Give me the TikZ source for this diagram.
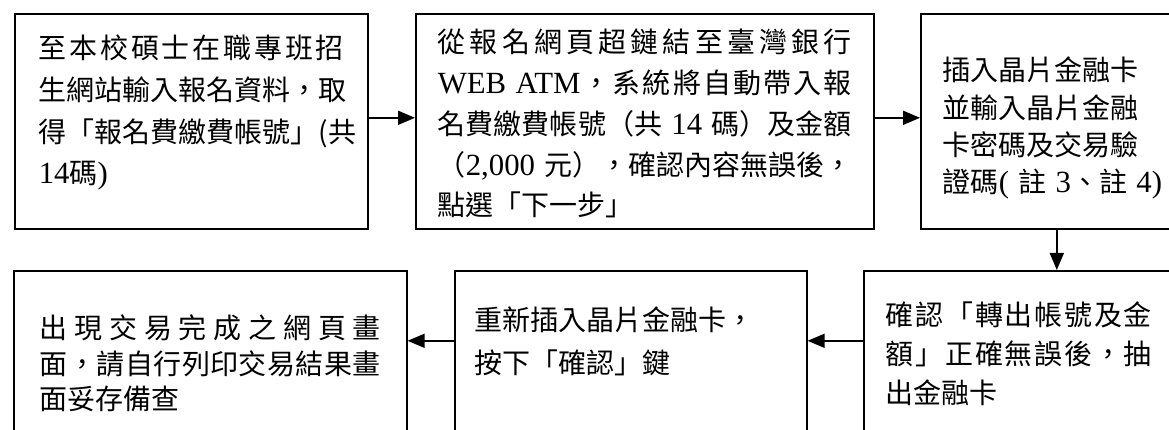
\documentclass[tikz,border=0pt]{standalone}
\usepackage{fontspec}
\setmainfont{Noto Sans CJK TC}
\newfontfamily\lat[Scale=1.1]{Liberation Serif}
\usepackage{tikz}
\usetikzlibrary{arrows.meta}
\makeatletter
\def\jl@end{\jl@end@}
\newcommand\jline[1]{\makebox[\linewidth][s]{\jl@a#1\jl@end}}
\def\jl@a#1{#1\jl@b}
\def\jl@b#1{\ifx\jl@end#1\else\hfil#1\expandafter\jl@b\fi}
\makeatother
\tikzset{
  stepbox/.style={draw,line width=1.6pt,anchor=north west,align=left,inner ysep=0pt},
  flow/.style={-{Triangle[length=17pt,width=14pt]},line width=1.6pt}
}

\begin{document}
\begin{tikzpicture}[x=1pt,y=-1pt]
  \useasboundingbox (0,0) rectangle (1169,430);
  \clip (0,0) rectangle (1169,430);
  \node[stepbox,text width=305pt,inner xsep=24pt,text height=45pt,text depth=170pt,
    font=\fontsize{28}{41.7}\selectfont] (reg) at (14,13)
    {\jline{至本校碩士在職專班招}\\ \jline{生網站輸入報名資料，取}\\
     \jline{得「報名費繳費帳號」(共}\\ {\lat 14}碼{\lat )}};
  \node[stepbox,text width=414pt,inner xsep=22pt,text height=39pt,text depth=176pt,
    font=\fontsize{28}{40.75}\selectfont] (atm) at (415,13)
    {\jline{從報名網頁超鏈結至臺灣銀行}\\ \jline{{{\lat WEB ATM}}，系統將自動帶入報}\\
     \jline{名費繳費帳號（共{{\lat ~14~}}碼）及金額}\\ \jline{（{{\lat 2,000~}}元），確認內容無誤後，}\\
     點選「下一步」};
  \node[stepbox,text width=228pt,inner xsep=22pt,text height=67pt,text depth=148pt,
    font=\fontsize{28}{37.3}\selectfont] (card) at (920,13)
    {插入晶片金融卡\\ 並輸入晶片金融\\ 卡密碼及交易驗\\ 證碼{\lat (~}註{\lat ~3}、註{\lat ~4)}};
  \node[stepbox,text width=266pt,inner xsep=22pt,text height=55pt,text depth=145pt,
    font=\fontsize{28}{39}\selectfont] (confirm) at (863,270)
    {\jline{確認「轉出帳號及金}\\ \jline{額」正確無誤後，抽}\\ 出金融卡};
  \node[stepbox,text width=312pt,inner xsep=20pt,text height=60pt,text depth=140pt,
    font=\fontsize{28}{43}\selectfont] (reinsert) at (454,270)
    {重新插入晶片金融卡，\\ 按下「確認」鍵};
  \node[stepbox,text width=341pt,inner xsep=26pt,text height=68pt,text depth=132pt,
    font=\fontsize{28}{35.5}\selectfont] (print) at (13,270)
    {\jline{出現交易完成之網頁畫}\\ \jline{面，請自行列印交易結果畫}\\ 面妥存備查};
  \draw[flow] ([yshift=3.5pt]reg.east) -- ([yshift=3.5pt]atm.west);
  \draw[flow] ([yshift=3.5pt]atm.east) -- ([yshift=3.5pt]card.west);
  \draw[flow] (card.south) -- (card.south |- confirm.north);
  \draw[flow] ([yshift=30pt]confirm.west) -- ([yshift=30pt]reinsert.east);
  \draw[flow] ([yshift=30pt]reinsert.west) -- ([yshift=30pt]print.east);
\end{tikzpicture}
\end{document}
